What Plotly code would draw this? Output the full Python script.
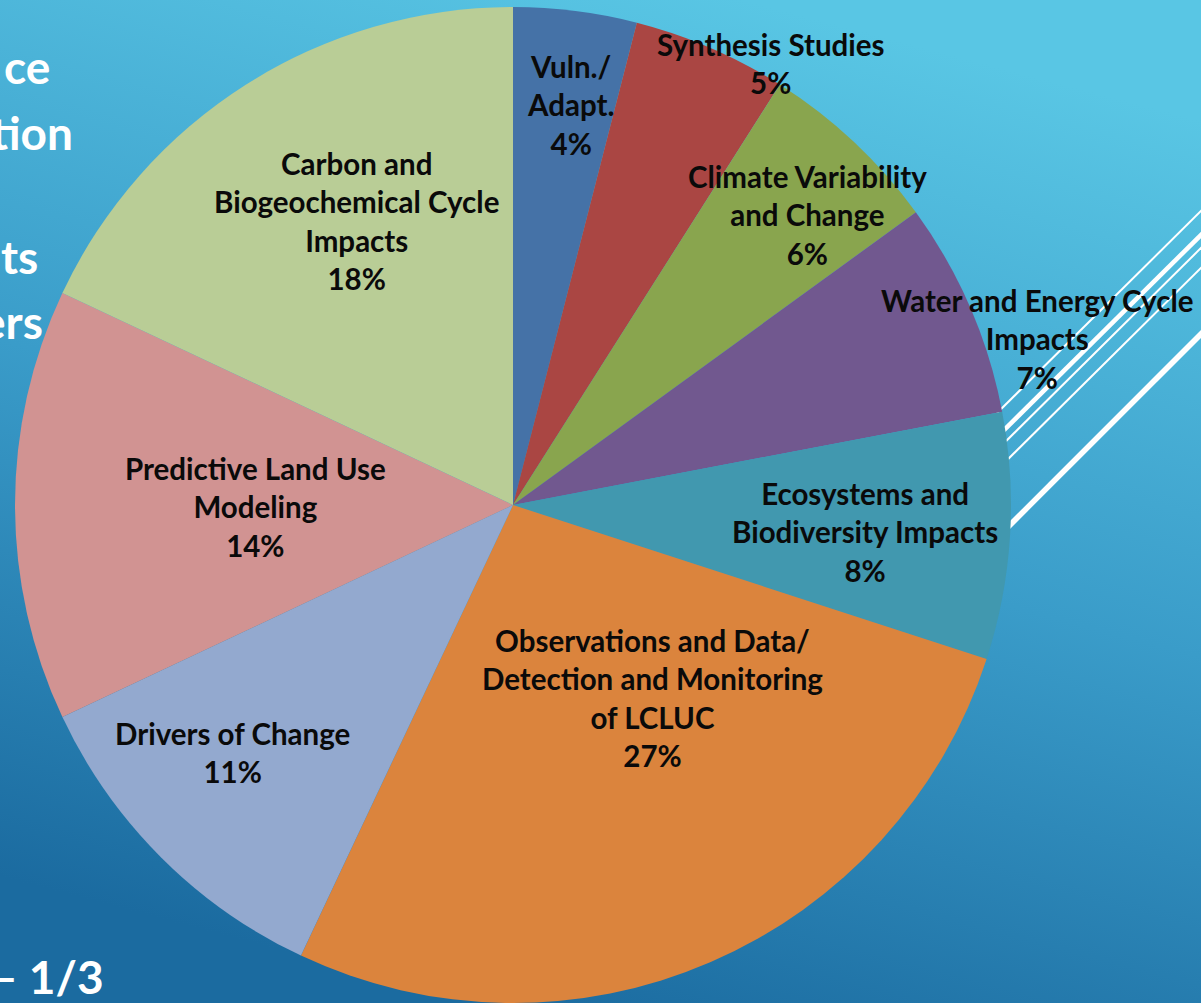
import base64
import plotly.graph_objects as go

# Research focus areas, clockwise from 12 o'clock
categories = [
    "Vuln./Adapt.",
    "Synthesis Studies",
    "Climate Variability and Change",
    "Water and Energy Cycle Impacts",
    "Ecosystems and Biodiversity Impacts",
    "Observations and Data/Detection and Monitoring of LCLUC",
    "Drivers of Change",
    "Predictive Land Use Modeling",
    "Carbon and Biogeochemical Cycle Impacts",
]
shares = [4, 5, 6, 7, 8, 27, 11, 14, 18]

# Wrapped label text for each slice
label_lines = [
    "Vuln./<br>Adapt.",
    "Synthesis Studies",
    "Climate Variability<br>and Change",
    "Water and Energy Cycle<br>Impacts",
    "Ecosystems and<br>Biodiversity Impacts",
    "Observations and Data/<br>Detection and Monitoring<br>of LCLUC",
    "Drivers of Change",
    "Predictive Land Use<br>Modeling",
    "Carbon and<br>Biogeochemical Cycle<br>Impacts",
]

slice_colors = [
    "#4572A7", "#AA4643", "#89A54E", "#71588F", "#4198AF",
    "#DB843D", "#93A9CF", "#D19392", "#B9CD96",
]

# Partial side text of the slide (clipped at the left edge)
side_text = ["ce", "tion", "ts", "ers", "– 1/3"]

W, H = 1201, 1003

# Label anchor points in pixels (centre of each text block)
label_pos = [
    (570, 105), (771, 64), (807, 215), (1037, 339), (865, 532),
    (652, 698), (232, 752), (255, 507), (356, 221),
]
side_pos = [(52, 66), (75, 132), (40, 257), (45, 321), (106, 976)]

# Decorative diagonal stripes: (right y, left y, width)
stripes = [(211, 420, 2), (235, 444, 4.5), (248, 457, 2), (268, 477, 2), (334, 545, 5.5)]


def px(x, y):
    return x / W, 1 - y / H


svg = (
    f'<svg xmlns="http://www.w3.org/2000/svg" width="{W}" height="{H}" '
    f'viewBox="0 0 {W} {H}" preserveAspectRatio="none">'
    '<defs><linearGradient id="g" gradientUnits="userSpaceOnUse" '
    f'x1="{W*0.62}" y1="0" x2="{W*0.40}" y2="{H}">'
    '<stop offset="0" stop-color="#59C6E4"/>'
    '<stop offset="0.5" stop-color="#3A9CC9"/>'
    '<stop offset="1" stop-color="#1B6BA0"/>'
    '</linearGradient></defs>'
    f'<rect width="{W}" height="{H}" fill="url(#g)"/></svg>'
)
bg_src = "data:image/svg+xml;base64," + base64.b64encode(svg.encode()).decode()

fig = go.Figure(
    go.Pie(
        labels=categories,
        values=shares,
        sort=False,
        direction="clockwise",
        rotation=0,
        textinfo="none",
        hoverinfo="label+percent",
        showlegend=False,
        marker=dict(colors=slice_colors, line=dict(width=0)),
        domain=dict(x=[13 / W, 1013 / W], y=[0, 1 - 7 / H]),
    )
)

annotations = []
for txt, v, (x, y) in zip(label_lines, shares, label_pos):
    ax, ay = px(x, y)
    annotations.append(dict(
        x=ax, y=ay, xref="paper", yref="paper", xanchor="center", yanchor="middle",
        text=f"{txt}<br>{v}%", showarrow=False, align="center",
        font=dict(family="Lato", size=29.5, color="#0A0A0A", weight="bold"),
    ))
for txt, (x, y) in zip(side_text, side_pos):
    ax, ay = px(x, y)
    annotations.append(dict(
        x=ax, y=ay, xref="paper", yref="paper", xanchor="right", yanchor="middle",
        text=txt, showarrow=False,
        font=dict(family="Lato", size=46, color="#FFFFFF", weight="bold"),
    ))

shapes = []
for yr, yl, w in stripes:
    x0, y0 = px(1205, yr - 4)
    x1, y1 = px(990, yl)
    shapes.append(dict(type="line", xref="paper", yref="paper", x0=x0, y0=y0, x1=x1, y1=y1,
                       line=dict(color="#FFFFFF", width=w), layer="below"))

fig.update_layout(
    width=W, height=H,
    margin=dict(l=0, r=0, t=0, b=0),
    paper_bgcolor="#3A9CC9",
    plot_bgcolor="rgba(0,0,0,0)",
    images=[dict(source=bg_src, xref="paper", yref="paper", x=0, y=1, sizex=1, sizey=1,
                 sizing="stretch", layer="below", xanchor="left", yanchor="top")],
    shapes=shapes,
    annotations=annotations,
)

fig.write_html("out.html")
